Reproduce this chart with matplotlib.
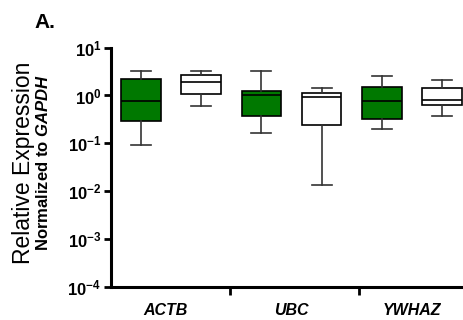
import matplotlib
matplotlib.use("Agg")
import matplotlib.pyplot as plt

plt.rcParams['font.family'] = ['Liberation Sans', 'DejaVu Sans']
plt.rcParams['mathtext.fontset'] = 'custom'
plt.rcParams['mathtext.rm'] = 'Liberation Sans'
plt.rcParams['mathtext.bf'] = 'Liberation Sans:bold'
plt.rcParams['mathtext.it'] = 'Liberation Sans:italic:bold'

# ---- data ----
genes = ['ACTB', 'UBC', 'YWHAZ']
# each gene: [green group, white group]; values: whislo, q1, med, q3, whishi
whislo = [0.090, 0.61, 0.166, 0.0133, 0.198, 0.37]
q1     = [0.296, 1.07, 0.37, 0.247, 0.315, 0.64]
med    = [0.77, 1.94, 1.02, 0.92, 0.77, 0.79]
q3     = [2.23, 2.67, 1.27, 1.14, 1.50, 1.43]
whishi = [3.33, 3.30, 3.18, 1.45, 2.62, 2.06]
fills  = ['#007800', 'white', '#007800', 'white', '#007800', 'white']

ytick_vals = [1e-4, 1e-3, 1e-2, 1e-1, 1e0, 1e1]
ytick_labels = [r'$\mathbf{10^{-4}}$', r'$\mathbf{10^{-3}}$', r'$\mathbf{10^{-2}}$',
                r'$\mathbf{10^{-1}}$', r'$\mathbf{10^{0}}$', r'$\mathbf{10^{1}}$']

fig = plt.figure(figsize=(4.63, 3.2), dpi=100)
ax = fig.add_axes([111/463, 1 - 286.7/320, 1 - 111/463, (286.7 - 47.7)/320])

stats = []
for i in range(len(med)):
    stats.append(dict(whislo=whislo[i], q1=q1[i], med=med[i], q3=q3[i], whishi=whishi[i]))
positions = list(range(1, len(med) + 1))
bp = ax.bxp(stats, positions=positions, widths=0.66, showfliers=False, patch_artist=True,
            capwidths=0.33,
            boxprops=dict(edgecolor='black', linewidth=1.2),
            medianprops=dict(color='black', linewidth=1.2),
            whiskerprops=dict(color='#333333', linewidth=1.2),
            capprops=dict(color='#333333', linewidth=1.2))
for patch, c in zip(bp['boxes'], fills):
    patch.set_facecolor(c)

ax.set_yscale('log')
ax.set_ylim(1e-4, 1e1)
ax.set_xlim(0.5, 6.35)
ax.set_yticks(ytick_vals)
ax.set_yticklabels(ytick_labels, fontsize=12)
ax.minorticks_off()
ax.tick_params(axis='y', direction='out', length=5, width=2, pad=2)

# group separator ticks on x axis
ax.set_xticks([2.48, 4.62])
ax.set_xticklabels(['', ''])
ax.tick_params(axis='x', direction='out', length=6, width=2)
for gx, g in zip([1.4, 3.5, 5.5], genes):
    ax.text(gx, -0.07, g, transform=ax.get_xaxis_transform(), ha='center', va='top',
            fontsize=11.5, fontweight='bold', fontstyle='italic')

for s in ['top', 'right']:
    ax.spines[s].set_visible(False)
ax.spines['left'].set_linewidth(2.2)
ax.spines['bottom'].set_linewidth(2.2)

fig.text(24/463, 1 - 163/320, 'Relative Expression', rotation=90, ha='center', va='center',
         fontsize=16.5)
fig.text(43/463, 1 - 163/320, r'Normalized to $\mathit{GAPDH}$', rotation=90, ha='center',
         va='center', fontsize=12, fontweight='bold')
fig.text(34/463, 1 - 22/320, 'A.', ha='left', va='center', fontsize=15, fontweight='bold')

fig.savefig('out.png', dpi=100)
